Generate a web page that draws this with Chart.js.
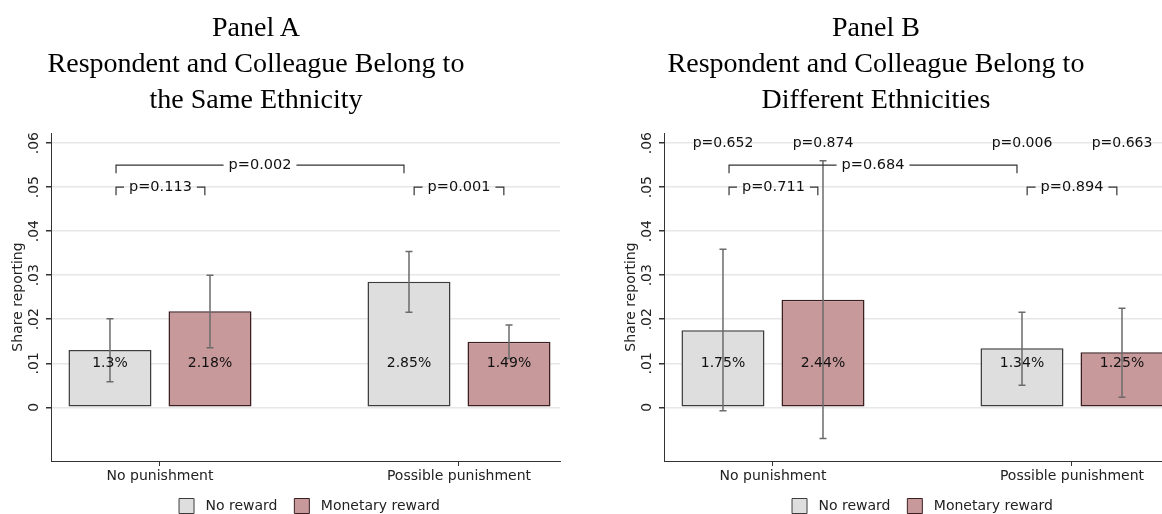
<!DOCTYPE html>
<html>
<head>
<meta charset="utf-8">
<script src="https://cdn.jsdelivr.net/npm/chart.js@4.4.1/dist/chart.umd.min.js"></script>
<style>
  body{margin:0;width:1162px;height:514px;overflow:hidden;position:relative;background:#fff;}
  .titel{position:absolute;top:9px;width:600px;text-align:center;font-family:"Liberation Serif",serif;font-size:28px;line-height:36px;color:#000;pointer-events:none;}
  .box{position:absolute;top:0;width:580px;height:514px;}
</style>
</head>
<body>
<div class="box" style="left:0px"><canvas id="panelA"></canvas></div>
<div class="box" style="left:613px"><canvas id="panelB"></canvas></div>
<div class="titel" style="left:-44px">Panel A<br>Respondent and Colleague Belong to<br>the Same Ethnicity</div>
<div class="titel" style="left:576px">Panel B<br>Respondent and Colleague Belong to<br>Different Ethnicities</div>
<script>
//Daten
const kategorien=['No punishment','Possible punishment'];
const serienNamen=['No reward','Monetary reward'];
const yTicks=[0,0.01,0.02,0.03,0.04,0.05,0.06];
const yTickLabels=['0','.01','.02','.03','.04','.05','.06'];
const labelHoehe=0.01;

//Panel A: gleiche Ethnie
const panelA_keine=[0.0130,0.0285];
const panelA_geld=[0.0218,0.0149];
const panelA_ciKeine=[[0.0058,0.0201],[0.0216,0.0354]];
const panelA_ciGeld=[[0.0135,0.0300],[0.0111,0.0187]];
const panelA_klammern=[
    {von:0.853,bis:1.816,hoehe:0.055,text:'p=0.002'},
    {von:0.853,bis:1.150,hoehe:0.050,text:'p=0.113'},
    {von:1.850,bis:2.150,hoehe:0.050,text:'p=0.001'}
];

//Panel B: verschiedene Ethnien
const panelB_keine=[0.0175,0.0134];
const panelB_geld=[0.0244,0.0125];
const panelB_ciKeine=[[-0.0008,0.0359],[0.0050,0.0216]];
const panelB_ciGeld=[[-0.0071,0.0560],[0.0023,0.0225]];
const panelB_pOben=[['p=0.652','p=0.006'],['p=0.874','p=0.663']];
const panelB_klammern=[
    {von:0.853,bis:1.816,hoehe:0.055,text:'p=0.684'},
    {von:0.853,bis:1.150,hoehe:0.050,text:'p=0.711'},
    {von:1.850,bis:2.150,hoehe:0.050,text:'p=0.894'}
];

const schrift='"DejaVu Sans"';

function anteilText(v){
    return parseFloat((v*100).toFixed(2))+'%';
}

//Fehlerbalken, Prozentwerte, p-Werte und gedrehte y-Beschriftung
const zusatzPlugin={
    id:'zusatz',
    afterLayout(chart){
        //Legende etwas nach rechts schieben
        chart.legend.left+=4;
        chart.legend.right+=4;
    },
    afterDatasetsDraw(chart,args,opts){
        const ctx=chart.ctx;
        const x=chart.scales.x;
        const y=chart.scales.y;
        ctx.save();
        ctx.strokeStyle='#6b6b6b';
        ctx.lineWidth=1.5;
        chart.data.datasets.forEach((ds,d)=>{
            chart.getDatasetMeta(d).data.forEach((bar,i)=>{
                const lo=y.getPixelForValue(opts.ci[d][i][0]);
                const hi=y.getPixelForValue(opts.ci[d][i][1]);
                ctx.beginPath();
                ctx.moveTo(bar.x,lo);ctx.lineTo(bar.x,hi);
                ctx.moveTo(bar.x-3.5,lo);ctx.lineTo(bar.x+3.5,lo);
                ctx.moveTo(bar.x-3.5,hi);ctx.lineTo(bar.x+3.5,hi);
                ctx.stroke();
            });
        });
        ctx.fillStyle='#111';
        ctx.textAlign='center';
        ctx.textBaseline='middle';
        ctx.font='14px '+schrift;
        chart.data.datasets.forEach((ds,d)=>{
            chart.getDatasetMeta(d).data.forEach((bar,i)=>{
                ctx.fillText(anteilText(ds.data[i].y),bar.x,y.getPixelForValue(labelHoehe));
                if(opts.pOben){
                    ctx.fillText(opts.pOben[d][i],bar.x,y.getPixelForValue(0.06));
                }
            });
        });
        ctx.strokeStyle='#333';
        ctx.lineWidth=1.2;
        ctx.font='14.5px '+schrift;
        opts.klammern.forEach(k=>{
            const x1=x.getPixelForValue(k.von);
            const x2=x.getPixelForValue(k.bis);
            const yy=y.getPixelForValue(k.hoehe);
            const mitte=(x1+x2)/2;
            const w=ctx.measureText(k.text).width/2+5;
            ctx.beginPath();
            ctx.moveTo(x1,yy+8);ctx.lineTo(x1,yy);ctx.lineTo(mitte-w,yy);
            ctx.moveTo(mitte+w,yy);ctx.lineTo(x2,yy);ctx.lineTo(x2,yy+8);
            ctx.stroke();
            ctx.fillText(k.text,mitte,yy);
        });
        ctx.font='14px '+schrift;
        ctx.fillStyle='#222';
        yTicks.forEach((v,i)=>{
            ctx.save();
            ctx.translate(34,y.getPixelForValue(v));
            ctx.rotate(-Math.PI/2);
            ctx.fillText(yTickLabels[i],0,0);
            ctx.restore();
        });
        ctx.restore();
    }
};

function chartErzeugen(canvasId,keine,geld,ciKeine,ciGeld,klammern,pOben){
    const punkte=(werte)=>werte.map((v,i)=>({x:i+1,y:v}));
    new Chart(document.getElementById(canvasId),{
        type:'bar',
        data:{
            datasets:[
                {label:serienNamen[0],data:punkte(keine),backgroundColor:'#dedede',borderColor:'#3c3c3c',borderWidth:1.5,borderSkipped:false},
                {label:serienNamen[1],data:punkte(geld),backgroundColor:'#c8999b',borderColor:'#3b1f20',borderWidth:1.5,borderSkipped:false}
            ]
        },
        plugins:[zusatzPlugin],
        options:{
            responsive:true,
            maintainAspectRatio:false,
            animation:false,
            barPercentage:0.83,
            categoryPercentage:0.669,
            layout:{padding:{top:133,left:0,right:20,bottom:-9.5}},
            scales:{
                x:{
                    type:'linear',
                    offset:false,
                    min:0.6355,
                    max:2.3378,
                    afterBuildTicks:(s)=>{s.ticks=[{value:1},{value:2}];},
                    afterFit:(s)=>{s.height=29.5;},
                    ticks:{
                        callback:(v)=>kategorien[v-1],
                        color:'#222',
                        font:{family:schrift,size:14},
                        padding:2,
                        maxRotation:0,
                        autoSkip:false
                    },
                    grid:{offset:false,drawOnChartArea:false,drawTicks:true,tickLength:5,tickColor:'#333'},
                    border:{display:true,color:'#333',width:1}
                },
                y:{
                    min:-0.0122,
                    max:0.0623,
                    afterBuildTicks:(s)=>{s.ticks=yTicks.map(v=>({value:v}));},
                    afterFit:(s)=>{s.width=51;},
                    ticks:{display:false},
                    grid:{color:'#e7e7e7',lineWidth:1.5,drawTicks:true,tickLength:5,tickColor:'#333'},
                    border:{display:true,color:'#333',width:1},
                    title:{
                        display:true,
                        text:'Share reporting',
                        color:'#222',
                        font:{family:schrift,size:14},
                        padding:{top:10,bottom:0}
                    }
                }
            },
            plugins:{
                tooltip:{enabled:false},
                legend:{
                    position:'bottom',
                    fullSize:false,
                    labels:{
                        boxWidth:15,
                        boxHeight:15,
                        padding:8,
                        color:'#222',
                        font:{family:schrift,size:14},
                        generateLabels:(chart)=>{
                            const items=Chart.defaults.plugins.legend.labels.generateLabels(chart);
                            items.forEach((it,i)=>{
                                it.text=' '+it.text+(i<items.length-1?'  ':'');
                                it.lineWidth=1;
                            });
                            return items;
                        }
                    }
                },
                zusatz:{ci:[ciKeine,ciGeld],klammern:klammern,pOben:pOben}
            }
        }
    });
}

chartErzeugen('panelA',panelA_keine,panelA_geld,panelA_ciKeine,panelA_ciGeld,panelA_klammern,null);
chartErzeugen('panelB',panelB_keine,panelB_geld,panelB_ciKeine,panelB_ciGeld,panelB_klammern,panelB_pOben);
</script>
</body>
</html>
